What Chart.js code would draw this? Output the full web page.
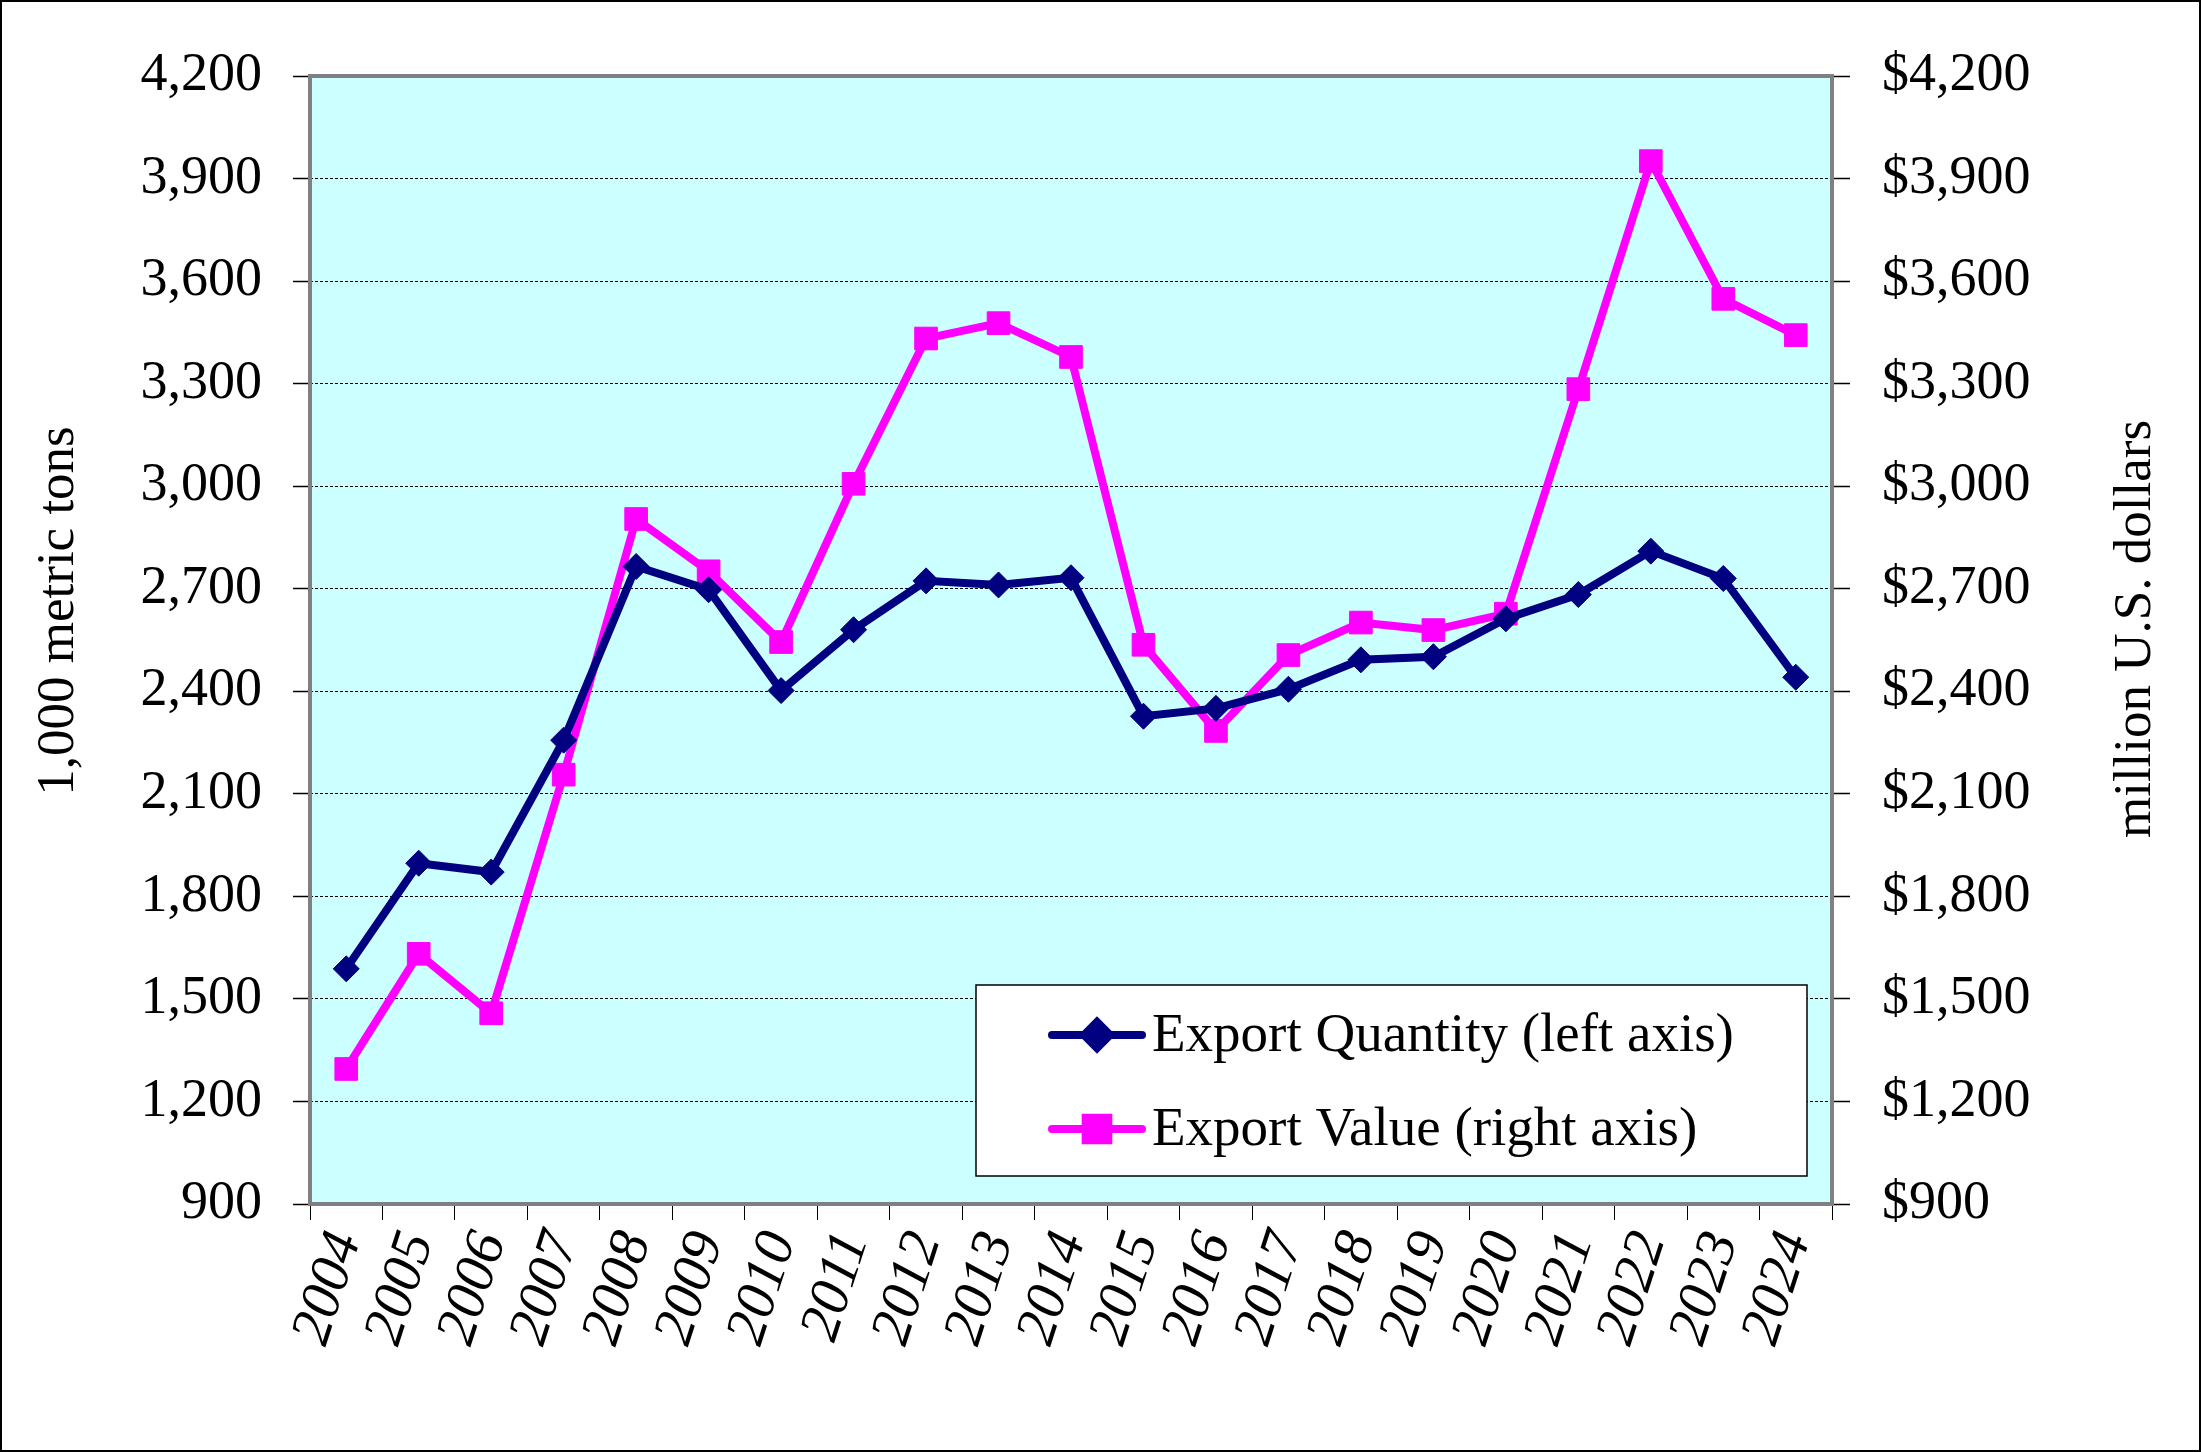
<!DOCTYPE html>
<html>
<head>
<meta charset="utf-8">
<script src="https://cdn.jsdelivr.net/npm/chart.js@4.4.1/dist/chart.umd.min.js"></script>
<style>
  html, body { margin: 0; padding: 0; background: #fff; }
  canvas { display: block; }
</style>
</head>
<body>
<canvas id="chart" width="2201" height="1452"></canvas>
<script>
const years = ['2004', '2005', '2006', '2007', '2008', '2009', '2010', '2011', '2012', '2013', '2014',
  '2015', '2016', '2017', '2018', '2019', '2020', '2021', '2022', '2023', '2024'];
// 1,000 metric tons
const exportQuantity = [1588, 1897, 1871, 2257, 2765, 2697, 2402, 2580, 2723, 2711, 2732,
  2327, 2350, 2406, 2492, 2501, 2612, 2683, 2810, 2730, 2441];
// million U.S. dollars
const exportValue = [1295, 1632, 1458, 2156, 2904, 2751, 2544, 3007, 3432, 3477, 3378,
  2536, 2284, 2506, 2601, 2579, 2627, 3284, 3951, 3548, 3442];
const yTickValues = [900, 1200, 1500, 1800, 2100, 2400, 2700, 3000, 3300, 3600, 3900, 4200];
const leftTitle = '1,000 metric tons';
const rightTitle = 'million U.S. dollars';
const seriesNames = ['Export Quantity (left axis)', 'Export Value (right axis)'];

const FONT = "'Liberation Serif', 'Times New Roman', serif";
const fmt = v => v.toLocaleString('en-US');

// background, plot frame, outer border, titles and the boxed legend
const decor = {
  id: 'decor',
  beforeDraw(chart) {
    const { ctx, chartArea: a } = chart;
    ctx.save();
    ctx.fillStyle = '#fff';
    ctx.fillRect(0, 0, chart.width, chart.height);
    ctx.fillStyle = '#ccffff';
    ctx.fillRect(a.left, a.top, a.right - a.left, a.bottom - a.top);
    ctx.restore();
  },
  beforeDatasetsDraw(chart) {
    const { ctx, chartArea: a } = chart;
    ctx.save();
    ctx.strokeStyle = '#808080';
    ctx.lineWidth = 4;
    ctx.strokeRect(a.left, a.top, a.right - a.left, a.bottom - a.top);
    ctx.restore();
  },
  afterDraw(chart) {
    const ctx = chart.ctx;
    ctx.save();
    // outer border
    ctx.strokeStyle = '#000';
    ctx.lineWidth = 2;
    ctx.strokeRect(1, 1, chart.width - 2, chart.height - 2);

    // axis titles (both read bottom to top)
    ctx.fillStyle = '#000';
    ctx.font = '53px ' + FONT;
    ctx.textAlign = 'center';
    ctx.textBaseline = 'middle';
    [[leftTitle, 59, 611], [rightTitle, 2136, 629]].forEach(([t, x, y]) => {
      ctx.save();
      ctx.translate(x, y);
      ctx.rotate(-Math.PI / 2);
      ctx.fillText(t, 0, 0);
      ctx.restore();
    });

    // legend
    const box = { x: 976, y: 985, w: 831, h: 191 };
    ctx.fillStyle = '#fff';
    ctx.fillRect(box.x, box.y, box.w, box.h);
    ctx.lineWidth = 1.5;
    ctx.strokeStyle = '#000';
    ctx.strokeRect(box.x, box.y, box.w, box.h);
    const rows = [1035, 1129];
    chart.data.datasets.forEach((ds, i) => {
      const y = rows[i];
      ctx.strokeStyle = ds.borderColor;
      ctx.lineWidth = ds.borderWidth;
      ctx.lineCap = 'round';
      ctx.beginPath();
      ctx.moveTo(1052, y);
      ctx.lineTo(1142, y);
      ctx.stroke();
      ctx.fillStyle = ds.borderColor;
      Chart.helpers.drawPoint(ctx, {
        pointStyle: ds.pointStyle, radius: ds.pointRadius, borderWidth: 1, rotation: 0
      }, 1097, y);
      ctx.fillStyle = '#000';
      ctx.font = '55px ' + FONT;
      ctx.textAlign = 'left';
      ctx.textBaseline = 'middle';
      ctx.fillText(seriesNames[i], 1152, y + 2);
    });
    ctx.restore();
  }
};

const yTicksFrom = list => scale => { scale.ticks = list.map(v => ({ value: v })); };

new Chart(document.getElementById('chart'), {
  type: 'line',
  data: {
    labels: years,
    datasets: [
      {
        label: seriesNames[0],
        data: exportQuantity,
        yAxisID: 'y',
        borderColor: '#000080',
        backgroundColor: '#000080',
        borderWidth: 8,
        pointStyle: 'rectRot',
        pointRadius: 13,
        pointBorderWidth: 1,
        tension: 0
      },
      {
        label: seriesNames[1],
        data: exportValue,
        yAxisID: 'y1',
        borderColor: '#ff00ff',
        backgroundColor: '#ff00ff',
        borderWidth: 8,
        pointStyle: 'rect',
        pointRadius: 16,
        pointBorderWidth: 1,
        tension: 0
      }
    ]
  },
  options: {
    responsive: false,
    animation: false,
    devicePixelRatio: 1,
    layout: { padding: { top: 76, left: 0, right: 0, bottom: 0 } },
    plugins: {
      legend: { display: false },
      tooltip: { enabled: false }
    },
    scales: {
      x: {
        offset: true,
        afterFit: s => { s.height = 248; },
        grid: {
          offset: true,
          drawOnChartArea: false,
          tickLength: 16,
          tickColor: '#000',
          tickWidth: 1
        },
        border: { display: false },
        ticks: {
          autoSkip: false,
          minRotation: 72,
          maxRotation: 72,
          padding: 4,
          color: '#000',
          font: { family: FONT, size: 57, style: 'italic' }
        }
      },
      y: {
        position: 'left',
        min: 900,
        max: 4200,
        afterBuildTicks: yTicksFrom(yTickValues),
        afterFit: s => { s.width = 310; },
        grid: {
          color: '#000',
          lineWidth: 1,
          tickLength: 17,
          tickColor: '#000',
          tickWidth: 1.5
        },
        border: { display: false, dash: [3, 2] },
        ticks: {
          padding: 31,
          color: '#000',
          font: { family: FONT, size: 54 },
          callback: v => fmt(v)
        }
      },
      y1: {
        position: 'right',
        min: 900,
        max: 4200,
        afterBuildTicks: yTicksFrom(yTickValues),
        afterFit: s => { s.width = 369; },
        grid: {
          drawOnChartArea: false,
          tickLength: 18,
          tickColor: '#000',
          tickWidth: 1.5
        },
        border: { display: false },
        ticks: {
          padding: 32,
          color: '#000',
          font: { family: FONT, size: 54 },
          callback: v => '$' + fmt(v)
        }
      }
    }
  },
  plugins: [decor]
});
</script>
</body>
</html>
